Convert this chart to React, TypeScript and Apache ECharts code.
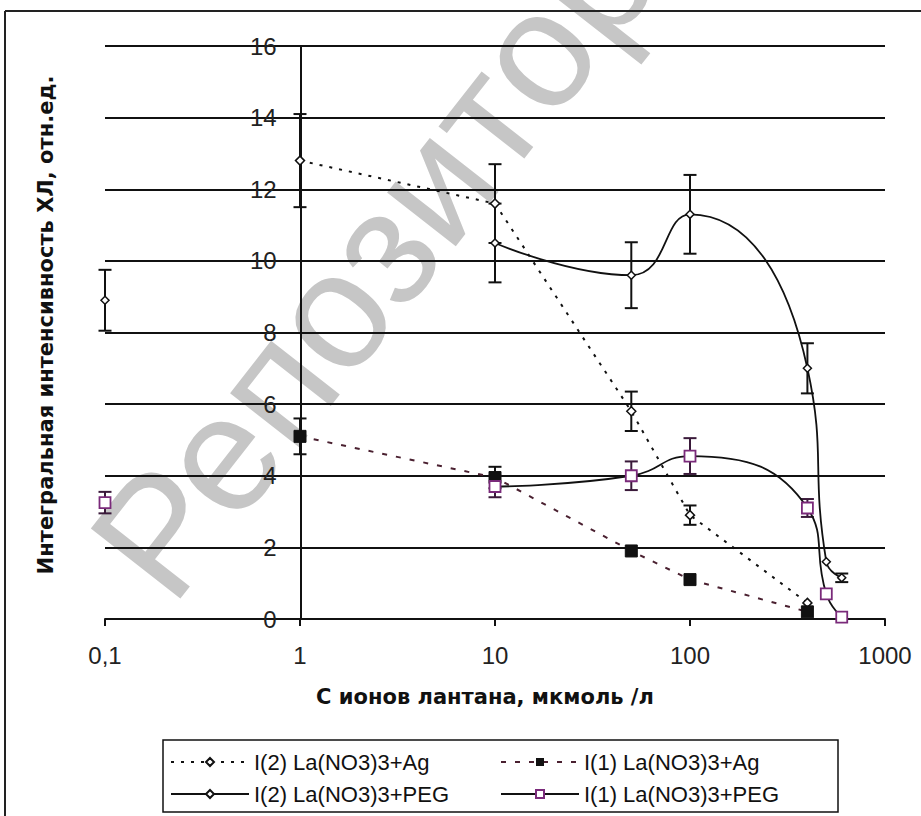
import React, { useEffect, useRef } from "react";
import * as echarts from "echarts";

// ---- data ----
const xValues = [0.1, 1, 10, 50, 100, 400, 500, 600];
const seriesNames = [
  "I(2) La(NO3)3+Ag",
  "I(1) La(NO3)3+Ag",
  "I(2) La(NO3)3+PEG",
  "I(1) La(NO3)3+PEG",
];
const ag2 = [null, 12.8, 11.6, 5.8, 2.9, 0.45, null, null];
const ag2Err = [null, 1.3, 1.1, 0.55, 0.27, null, null, null];
const ag1 = [null, 5.1, 3.95, 1.9, 1.1, 0.2, null, null];
const ag1Err = [null, 0.5, 0.3, null, null, null, null, null];
const peg2 = [8.9, null, 10.5, 9.6, 11.3, 7.0, 1.6, 1.15];
const peg2Err = [0.85, null, 1.1, 0.92, 1.1, 0.7, null, 0.12];
const peg1 = [3.25, null, 3.7, 4.0, 4.55, 3.1, 0.7, 0.05];
const peg1Err = [0.3, null, 0.3, 0.4, 0.5, 0.25, null, null];
const yTicks = { min: 0, max: 16, interval: 2 };
const xAxisTitle = "С ионов лантана, мкмоль /л";
const yAxisTitle = "Интегральная интенсивность ХЛ, отн.ед.";
const watermark = "Репозиторий";

const pairs = (vals: (number | null)[]) =>
  xValues.map((x, i) => [x, vals[i] == null ? "-" : vals[i]]);
const errPairs = (vals: (number | null)[], errs: (number | null)[]) =>
  xValues
    .map((x, i) => (errs[i] != null && vals[i] != null ? [x, vals[i], errs[i]] : null))
    .filter((d) => d !== null);

const errSeries = (data: any[], color: string) => ({
  type: "custom",
  name: "err",
  z: 1,
  silent: true,
  data,
  renderItem: (params: any, api: any) => {
    const x = api.value(0);
    const y = api.value(1);
    const e = api.value(2);
    const top = api.coord([x, y + e]);
    const bot = api.coord([x, y - e]);
    const hw = 6.5;
    const st = { stroke: color, lineWidth: 2 };
    return {
      type: "group",
      children: [
        { type: "line", shape: { x1: top[0], y1: top[1], x2: bot[0], y2: bot[1] }, style: st },
        { type: "line", shape: { x1: top[0] - hw, y1: top[1], x2: top[0] + hw, y2: top[1] }, style: st },
        { type: "line", shape: { x1: bot[0] - hw, y1: bot[1], x2: bot[0] + hw, y2: bot[1] }, style: st },
      ],
    };
  },
});

export default function App() {
  const ref = useRef<HTMLDivElement>(null);
  useEffect(() => {
    if (!ref.current) return;
    const chart = echarts.init(ref.current, null, { renderer: "svg" });
    const legendCommon = {
      itemWidth: 78,
      itemHeight: 10,
      itemGap: 0,
      padding: 0,
      textStyle: { fontSize: 22, fontFamily: "Liberation Sans", color: "#111" },
    };
    chart.setOption({
      animation: false,
      backgroundColor: "#fff",
      grid: { left: 105, right: 36, top: 46, bottom: 197 },
      xAxis: {
        type: "log",
        logBase: 10,
        min: 0.1,
        max: 1000,
        axisLine: { lineStyle: { color: "#111", width: 2 } },
        axisTick: { show: true, length: 7, lineStyle: { color: "#111", width: 2 } },
        minorTick: { show: false },
        splitLine: { show: false },
        axisLabel: {
          margin: 24,
          fontSize: 24,
          fontFamily: "Liberation Sans",
          color: "#222",
          formatter: (v: number) => String(Number(v.toPrecision(6))).replace(".", ","),
        },
      },
      yAxis: {
        type: "value",
        min: yTicks.min,
        max: yTicks.max,
        interval: yTicks.interval,
        offset: -195.7,
        axisLine: { show: true, lineStyle: { color: "#111", width: 2 } },
        axisTick: { show: false },
        splitLine: { show: true, lineStyle: { color: "#111", width: 2 } },
        axisLabel: {
          margin: 24,
          fontSize: 24,
          fontFamily: "Liberation Sans",
          color: "#222",
        },
      },
      legend: [
        { ...legendCommon, data: [seriesNames[0]], left: 170, top: 751 },
        { ...legendCommon, data: [seriesNames[1]], left: 500, top: 751 },
        { ...legendCommon, data: [seriesNames[2]], left: 170, top: 783 },
        { ...legendCommon, data: [seriesNames[3]], left: 500, top: 783 },
      ],
      graphic: [
        {
          type: "text",
          z: -10,
          x: 192,
          y: 625,
          rotation: (52 * Math.PI) / 180,
          style: {
            text: watermark,
            fontSize: 165,
            fontFamily: "Liberation Sans",
            fill: "#c6c6c6",
            align: "left",
            verticalAlign: "bottom",
          },
        },
        {
          type: "line",
          shape: { x1: 5, y1: 11, x2: 921, y2: 11 },
          style: { stroke: "#222", lineWidth: 2 },
        },
        {
          type: "line",
          shape: { x1: 5, y1: 11, x2: 5, y2: 816 },
          style: { stroke: "#222", lineWidth: 2 },
        },
        {
          type: "rect",
          z: 1,
          shape: { x: 163, y: 740, width: 675, height: 72 },
          style: { fill: "#fff", stroke: "#111", lineWidth: 1.5 },
        },
        {
          type: "text",
          x: 485,
          y: 697,
          style: {
            text: xAxisTitle,
            fontSize: 21,
            fontWeight: "bold",
            fontFamily: "DejaVu Sans",
            fill: "#111",
            align: "center",
            verticalAlign: "middle",
          },
        },
        {
          type: "text",
          x: 46,
          y: 325,
          rotation: Math.PI / 2,
          style: {
            text: yAxisTitle,
            fontSize: 21,
            fontWeight: "bold",
            fontFamily: "DejaVu Sans",
            fill: "#111",
            align: "center",
            verticalAlign: "middle",
          },
        },
      ],
      series: [
        errSeries(errPairs(ag2, ag2Err), "#111"),
        errSeries(errPairs(ag1, ag1Err), "#111"),
        errSeries(errPairs(peg2, peg2Err), "#111"),
        errSeries(errPairs(peg1, peg1Err), "#3a1a3a"),
        {
          name: seriesNames[0],
          type: "line",
          data: pairs(ag2),
          symbol: "diamond",
          symbolSize: 9,
          z: 3,
          itemStyle: { color: "#fff", borderColor: "#111", borderWidth: 1.5 },
          lineStyle: { color: "#111", width: 2, type: [3, 7] },
        },
        {
          name: seriesNames[1],
          type: "line",
          data: pairs(ag1),
          symbol: "rect",
          symbolSize: 12,
          z: 3,
          itemStyle: { color: "#111", borderColor: "#111" },
          lineStyle: { color: "#4a2030", width: 2, type: [5, 9] },
        },
        {
          name: seriesNames[2],
          type: "line",
          data: pairs(peg2),
          connectNulls: false,
          smooth: 0.5,
          symbol: "diamond",
          symbolSize: 8,
          z: 3,
          itemStyle: { color: "#fff", borderColor: "#111", borderWidth: 1.5 },
          lineStyle: { color: "#111", width: 1.8 },
        },
        {
          name: seriesNames[3],
          type: "line",
          data: pairs(peg1),
          connectNulls: false,
          smooth: 0.5,
          symbol: "rect",
          symbolSize: 11,
          z: 3,
          itemStyle: { color: "#fff", borderColor: "#7a2a7a", borderWidth: 1.8 },
          lineStyle: { color: "#111", width: 1.8 },
        },
      ],
    });
    return () => chart.dispose();
  }, []);
  return (
    <div
      ref={ref}
      style={{ position: "absolute", left: 0, top: 0, width: 921, height: 816 }}
    />
  );
}
